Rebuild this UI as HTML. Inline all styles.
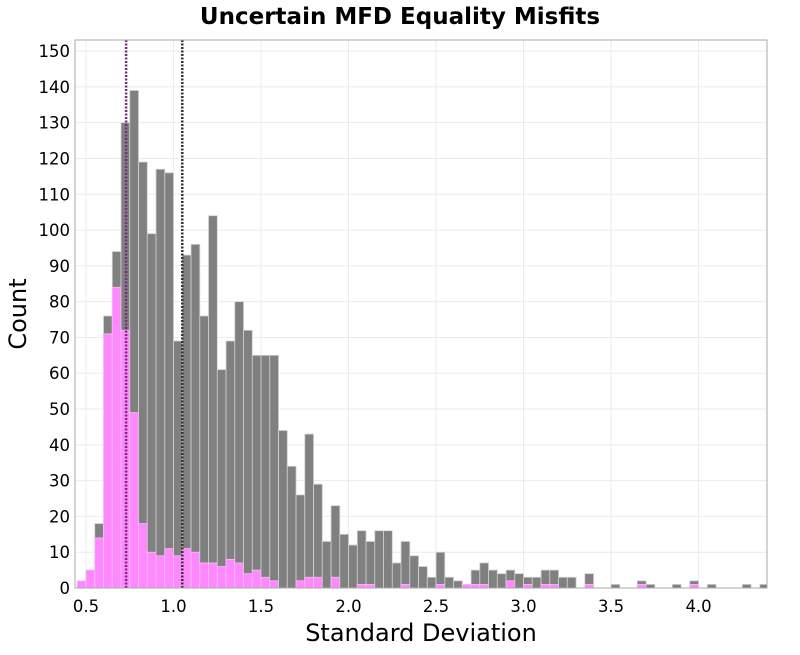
<!DOCTYPE html>
<html><head><meta charset="utf-8"><style>
body{margin:0;background:#fff;font-family:"Liberation Sans","DejaVu Sans",sans-serif}
svg text{font-family:"DejaVu Sans","Liberation Sans",sans-serif}
</style></head><body>
<svg id="chart" width="800" height="650" xmlns="http://www.w3.org/2000/svg">
<text x="400" y="24" text-anchor="middle" font-size="23" font-weight="bold">Uncertain MFD Equality Misfits</text>
<g id="grid"></g>
<g id="bars"></g>
<g id="lines"></g>
<rect x="75" y="40" width="692" height="548" fill="none" stroke="#aaa"/>
<g id="axes"></g>
<text x="421" y="641" text-anchor="middle" font-size="24">Standard Deviation</text>
<text transform="translate(26,314) rotate(-90)" text-anchor="middle" font-size="24">Count</text>
</svg>
<script>
const binStart = 0.45;
const binWidth = 0.05;
const totalCounts = [2,5,18,76,94,130,139,119,99,117,116,69,93,96,76,104,61,69,80,72,65,65,65,44,34,26,43,29,13,23,15,12,16,13,16,16,7,13,9,6,3,10,3,2,1,5,7,5,4,5,4,3,3,5,5,3,3,0,4,0,0,1,0,0,2,1,0,0,1,0,2,0,1,0,0,0,1,0,1];
const pinkCounts = [2,5,14,71,84,72,49,18,10,9,11,9,11,10,7,7,6,8,7,4,5,3,2,0,0,2,3,3,0,3,0,0,1,1,0,0,0,1,0,0,0,1,0,0,1,1,1,0,0,2,0,1,0,1,1,0,0,0,1,0,0,0,0,0,1,0,0,0,0,0,1,0,0,0,0,0,0,0,0];
const xTicks = [0.5,1.0,1.5,2.0,2.5,3.0,3.5,4.0];
const yTicks = [0,10,20,30,40,50,60,70,80,90,100,110,120,130,140,150];
const refLines = [0.729,1.05];
const refColors = ['#7a2a7a','#333'];
const L=75,R=767,T=40,B=588,xmin=0.437,xmax=4.391,ymax=153.1;
const sx=v=>L+(v-xmin)/(xmax-xmin)*(R-L);
const sy=v=>B-v/ymax*(B-T);
const NS='http://www.w3.org/2000/svg';
function mk(tag,attrs,parent,txt){const e=document.createElementNS(NS,tag);for(const k in attrs)e.setAttribute(k,attrs[k]);if(txt!==undefined)e.textContent=txt;parent.appendChild(e);return e;}
const grid=document.getElementById('grid'),bars=document.getElementById('bars'),lines=document.getElementById('lines'),axes=document.getElementById('axes');
yTicks.forEach(t=>{const g=mk('line',{x1:L,x2:R,y1:sy(t),y2:sy(t),stroke:'#ebebeb'},grid);


const lb=mk('text',{x:L-5,y:sy(t)+6,'text-anchor':'end','font-size':'16.5'},axes,String(t));

});
xTicks.forEach(t=>{const g=mk('line',{x1:sx(t),x2:sx(t),y1:T,y2:B,stroke:'#ebebeb'},grid);


const lb=mk('text',{x:sx(t),y:612,'text-anchor':'middle','font-size':'16.5'},axes,t.toFixed(1));

});
totalCounts.forEach((c,i)=>{const x0=sx(binStart+i*binWidth),x1=Math.min(sx(binStart+(i+1)*binWidth),R);
if(c>0){const r=mk('rect',{x:x0,y:sy(c),width:x1-x0,height:B-sy(c),fill:'#808080',stroke:'#d0d0d0','stroke-width':'0.8'},bars);

}
const p=pinkCounts[i];
if(p>0){const r=mk('rect',{x:x0,y:sy(p),width:x1-x0,height:B-sy(p),fill:'#ff88ff',stroke:'#f0c0f0','stroke-width':'0.8'},bars);

}});
refLines.forEach((v,i)=>{const l=mk('line',{x1:sx(v),x2:sx(v),y1:T,y2:B,stroke:refColors[i],'stroke-width':'2.5','stroke-dasharray':'2,1.5'},lines);

});
</script>
</body></html>
